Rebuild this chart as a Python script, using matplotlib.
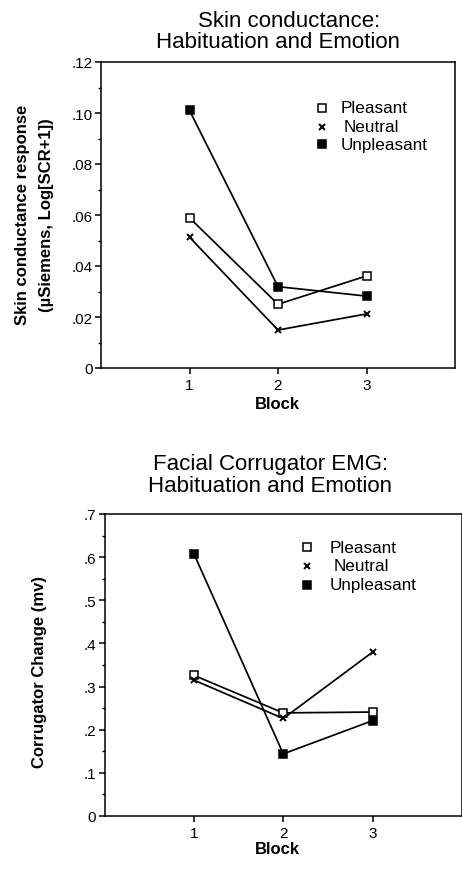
import matplotlib
matplotlib.use("Agg")
import matplotlib.pyplot as plt

plt.rcParams['font.family'] = ['Liberation Sans', 'DejaVu Sans']

# Data
blocks = [1, 2, 3]
conditions = ["Pleasant", "Neutral", "Unpleasant"]

scr_pleasant = [0.0589, 0.0250, 0.0361]
scr_neutral = [0.0513, 0.0149, 0.0212]
scr_unpleasant = [0.1010, 0.0319, 0.0282]

emg_pleasant = [0.326, 0.239, 0.241]
emg_neutral = [0.315, 0.226, 0.380]
emg_unpleasant = [0.608, 0.144, 0.221]

scr_ticks = [0, 0.02, 0.04, 0.06, 0.08, 0.10, 0.12]
scr_ticklabels = ["0", ".02", ".04", ".06", ".08", ".10", ".12"]
emg_ticks = [0, 0.1, 0.2, 0.3, 0.4, 0.5, 0.6, 0.7]
emg_ticklabels = ["0", ".1", ".2", ".3", ".4", ".5", ".6", ".7"]
block_labels = ["1", "2", "3"]

W, H = 462, 870
fig = plt.figure(figsize=(W / 100, H / 100), dpi=100)


def px(x, y):
    return x / W, 1 - y / H


styles = {
    "Pleasant": dict(marker="s", ms=6.3, mfc="white", mec="black", mew=1.1),
    "Neutral": dict(marker="x", ms=4.2, mfc="black", mec="black", mew=1.4),
    "Unpleasant": dict(marker="s", ms=6.3, mfc="black", mec="black", mew=1.1),
}


def panel(rect, series, ticks, ticklabels, minor_step, ylim, legend_pos):
    ax = fig.add_axes(rect)
    for name, vals in zip(conditions, series):
        ax.plot(blocks, vals, color="black", lw=1.25, zorder=2)
        ax.plot(blocks, vals, ls="none", zorder=3, **styles[name])
    ax.set_xlim(0, 4)
    ax.set_ylim(*ylim)
    ax.set_xticks(blocks)
    ax.set_xticklabels(block_labels)
    ax.set_yticks(ticks)
    ax.set_yticklabels(ticklabels)
    minors = [t + minor_step for t in ticks[:-1]]
    ax.set_yticks(minors, minor=True)
    ax.tick_params(axis="both", which="major", direction="out", length=4.5,
                   width=1.1, labelsize=11, pad=1.5, colors="black")
    ax.tick_params(axis="x", which="major", pad=2.5)
    ax.tick_params(axis="y", which="minor", direction="out", length=2.5, width=1.0)
    for sp in ax.spines.values():
        sp.set_linewidth(1.1)
        sp.set_color("black")
    # legend drawn as marker + label rows
    mx, tx, tx_n, rows = legend_pos
    for (name, yy) in zip(conditions, rows):
        st = dict(styles[name])
        ax.plot([mx], [yy], ls="none", transform=ax.transAxes, clip_on=False,
                **st)
        ax.text(tx_n if name == "Neutral" else tx, yy, name,
                transform=ax.transAxes, ha="left", va="center", fontsize=12.3)
    return ax


# Skin conductance panel
top = 63; bottom = 369; left = 101; right = 455
panel([left / W, 1 - bottom / H, (right - left) / W, (bottom - top) / H],
      [scr_pleasant, scr_neutral, scr_unpleasant],
      scr_ticks, scr_ticklabels, 0.01, (0, 0.12),
      (0.624, 0.678, 0.686, [0.850, 0.788, 0.732]))

fig.text(*px(289.5, 21.7), "Skin conductance:", ha="center", va="center", fontsize=16)
fig.text(*px(277.5, 42.7), "Habituation and Emotion", ha="center", va="center", fontsize=16)
fig.text(*px(23, 215), "Skin conductance response", rotation=90, ha="center",
         va="center", fontsize=12, fontweight="bold")
fig.text(*px(47, 215), "(\u00b5Siemens, Log[SCR+1])", rotation=90, ha="center",
         va="center", fontsize=12, fontweight="bold")
fig.text(*px(277.5, 405), "Block", ha="center", va="center", fontsize=12, fontweight="bold")

# Corrugator EMG panel
top = 515; bottom = 817; left = 104.5; right = 462
panel([left / W, 1 - bottom / H, (right - left) / W, (bottom - top) / H],
      [emg_pleasant, emg_neutral, emg_unpleasant],
      emg_ticks, emg_ticklabels, 0.05, (0, 0.7),
      (0.566, 0.631, 0.640, [0.890, 0.829, 0.766]))

fig.text(*px(271, 465), "Facial Corrugator EMG:", ha="center", va="center", fontsize=16)
fig.text(*px(269.5, 486.7), "Habituation and Emotion", ha="center", va="center", fontsize=16)
fig.text(*px(40, 672.5), "Corrugator Change (mv)", rotation=90, ha="center",
         va="center", fontsize=12, fontweight="bold")
fig.text(*px(277.5, 850), "Block", ha="center", va="center", fontsize=12, fontweight="bold")

fig.savefig("out.png", dpi=100, facecolor="white")
